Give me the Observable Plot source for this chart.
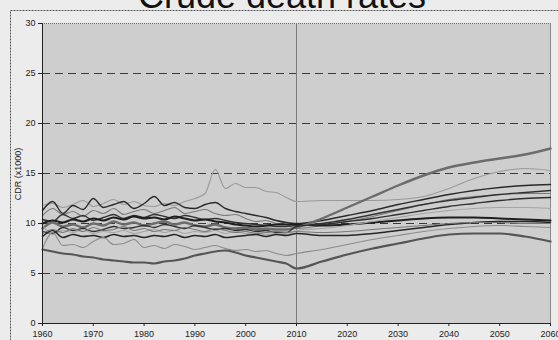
<!DOCTYPE html>
<html><head><meta charset="utf-8">
<script src="https://cdn.jsdelivr.net/npm/d3@7"></script>
<script src="https://cdn.jsdelivr.net/npm/@observablehq/plot@0.6"></script>
<style>
html,body{margin:0;padding:0;background:#ececec;}
#chart{position:relative;width:558px;height:340px;overflow:hidden;}
</style></head><body><div id="chart"></div>
<script>
const title = "Crude death rates";
const yLabel = "CDR (x1000)";
const xTicks = [1960,1970,1980,1990,2000,2010,2020,2030,2040,2050,2060];
const yTicks = [0,5,10,15,20,25,30];
const gridValues = [5,10,15,20,25];
const histYears = [1960,1962,1964,1966,1968,1970,1972,1974,1976,1978,1980,1982,1984,1986,1988,1990,1992,1994,1996,1998,2000,2002,2004,2006,2008];
const projYears = [2010,2015,2020,2025,2030,2035,2040,2045,2050,2055,2060];

const h1 = [11.8,12.0,11.6,11.9,12.3,11.7,12.0,12.4,11.9,12.2,11.8,11.7,12.0,11.8,12.2,12.5,13.0,15.4,13.5,14.0,13.6,13.6,13.2,13.1,12.6];
const p1 = [12.2,12.3,12.3,12.3,12.4,12.7,13.5,14.5,15.2,15.5,15.3];
const h2 = [11.3,12.2,11.0,11.8,11.4,12.5,11.6,11.9,12.2,11.5,12.0,12.7,11.8,12.1,11.6,11.5,11.9,12.1,11.5,11.2,11.0,10.8,10.6,10.3,10.1];
const p2 = [10.0,10.3,10.8,11.3,11.9,12.4,12.9,13.3,13.6,13.8,13.9];
const h3 = [10.8,11.5,10.9,11.2,10.7,11.3,11.0,11.5,10.9,11.2,11.4,11.0,11.3,11.6,11.0,11.2,11.4,11.0,10.8,10.9,10.5,10.2,10.3,10.0,9.9];
const p3 = [9.5,9.8,10.2,10.7,11.3,11.9,12.4,12.7,12.9,13.0,13.0];
const h4 = [10.4,10.2,10.9,10.5,10.8,10.3,10.6,10.9,10.5,10.8,10.6,10.9,10.7,10.5,10.8,10.6,10.4,10.5,10.3,10.1,10.0,9.9,9.8,9.7,9.7];
const p4 = [9.8,10.0,10.4,10.9,11.4,11.9,12.3,12.6,12.9,13.1,13.3];
const h5 = [10.0,10.3,10.1,10.4,10.2,10.5,10.3,10.6,10.4,10.7,10.5,10.6,10.4,10.7,10.5,10.3,10.4,10.2,10.1,9.9,9.8,9.7,9.8,9.9,9.9];
const p5 = [9.9,9.8,9.9,10.1,10.3,10.5,10.6,10.6,10.5,10.4,10.3];
const h6 = [9.5,10.1,9.7,9.9,9.6,10.0,9.8,10.2,9.9,10.1,9.8,10.0,10.2,9.9,10.1,9.8,9.7,9.9,9.6,9.5,9.6,9.4,9.5,9.4,9.4];
const p6 = [9.6,10.5,11.6,12.7,13.8,14.8,15.6,16.1,16.5,16.9,17.5];
const h7 = [9.2,9.0,9.6,9.3,9.5,9.2,9.4,9.7,9.5,9.6,9.8,9.6,9.9,9.7,9.5,9.8,9.6,9.4,9.5,9.3,9.4,9.2,9.3,9.1,9.1];
const p7 = [9.7,9.9,10.2,10.5,10.9,11.3,11.7,12.0,12.3,12.5,12.6];
const h8 = [9.8,8.9,9.3,9.1,9.4,9.0,9.2,9.1,9.3,9.0,9.2,9.4,9.1,9.3,9.0,9.2,9.1,9.3,9.0,9.2,9.0,9.1,8.9,9.0,8.9];
const p8 = [9.3,9.5,9.8,10.2,10.6,11.0,11.3,11.5,11.6,11.6,11.5];
const h9 = [8.7,9.3,8.6,8.9,8.7,8.8,8.6,8.9,8.7,8.8,8.6,8.8,8.7,8.9,8.6,8.8,8.7,8.9,8.6,8.7,8.8,8.9,8.7,8.9,8.8];
const p9 = [9.0,8.8,8.8,9.0,9.3,9.6,9.9,10.1,10.2,10.2,10.1];
const h10 = [7.5,9.1,7.8,7.9,7.6,8.2,8.6,7.9,8.0,8.4,7.6,7.8,7.5,7.9,7.7,7.4,7.6,7.8,7.5,7.3,7.4,7.2,7.3,7.0,6.8];
const p10 = [7.0,7.4,7.9,8.4,8.8,9.2,9.5,9.7,9.8,9.7,9.6];
const h11 = [7.4,7.2,7.0,6.9,6.7,6.6,6.4,6.3,6.2,6.1,6.1,6.0,6.2,6.3,6.5,6.8,7.0,7.2,7.3,7.1,6.8,6.6,6.4,6.2,6.0];
const p11 = [5.5,6.2,6.9,7.5,8.0,8.5,8.9,9.0,9.0,8.7,8.2];
const h12 = [9.0,9.4,9.1,9.5,9.2,9.6,9.3,9.4,9.7,9.3,9.5,9.2,9.4,9.3,9.6,9.4,9.2,9.5,9.3,9.1,9.2,9.0,9.1,9.2,9.1];
const p12 = [9.2,9.1,9.2,9.4,9.6,9.8,10.0,10.1,10.1,10.0,10.0];

const seriesList = [
  {hist:h1, proj:p1, color:"#9a9a9a", w:1.1},
  {hist:h2, proj:p2, color:"#2a2a2a", w:1.4},
  {hist:h3, proj:p3, color:"#7a7a7a", w:1.1},
  {hist:h4, proj:p4, color:"#333333", w:1.4},
  {hist:h5, proj:p5, color:"#1e1e1e", w:2.0},
  {hist:h6, proj:p6, color:"#6c6c6c", w:2.4},
  {hist:h7, proj:p7, color:"#2f2f2f", w:1.3},
  {hist:h8, proj:p8, color:"#a5a5a5", w:1.2},
  {hist:h9, proj:p9, color:"#262626", w:1.5},
  {hist:h10, proj:p10, color:"#8c8c8c", w:1.1},
  {hist:h11, proj:p11, color:"#555555", w:2.2},
  {hist:h12, proj:p12, color:"#777777", w:1.1}
];

const lineMarks = seriesList.map(s => {
  const rows = [];
  histYears.forEach((yr,i) => rows.push({year:yr, v:s.hist[i]}));
  projYears.forEach((yr,i) => rows.push({year:yr, v:s.proj[i]}));
  return Plot.line(rows, {x:"year", y:"v", stroke:s.color, strokeWidth:s.w, curve:"monotone-x"});
});

const chart = Plot.plot({
  width:558, height:340,
  marginLeft:42, marginRight:8, marginTop:23, marginBottom:17,
  style:{background:"transparent", fontFamily:"'Liberation Sans', Arial, sans-serif", fontSize:"9px", color:"#222"},
  x:{domain:[1960,2060]},
  y:{domain:[0,30]},
  marks:[
    Plot.frame({fill:"#cecece", stroke:null}),
    Plot.ruleY(gridValues, {stroke:"#3a3a3a", strokeWidth:1, strokeDasharray:"8,5"}),
    Plot.ruleY([30], {stroke:"#666", strokeWidth:1, strokeDasharray:"1,1"}),
    Plot.ruleX([2010], {stroke:"#7a7a7a", strokeWidth:1}),
    Plot.ruleX([2060], {stroke:"#8a8a8a", strokeWidth:1}),
    ...lineMarks,
    Plot.ruleY([0], {stroke:"#222", strokeWidth:1}),
    Plot.ruleX([1960], {stroke:"#222", strokeWidth:1}),
    Plot.axisY({ticks:yTicks, tickSize:4, tickPadding:3, label:null, tickFormat:d=>String(d)}),
    Plot.axisX({ticks:xTicks, tickSize:3, tickPadding:4, label:null, tickFormat:d=>String(d)})
  ]
});
document.getElementById("chart").appendChild(chart);

const svg = d3.select(chart);
svg.insert("rect", ":first-child")
  .attr("x",10.5).attr("y",10.5).attr("width",560).attr("height",340)
  .attr("fill","none").attr("stroke","#555").attr("stroke-width",1).attr("stroke-dasharray","2,1");
svg.append("text").text(title)
  .attr("x",282).attr("y",8).attr("text-anchor","middle")
  .attr("font-size",36).attr("font-family","'Liberation Sans', Arial, sans-serif").attr("fill","#111");
svg.append("text").text(yLabel)
  .attr("transform","translate(21,174) rotate(-90)").attr("text-anchor","middle")
  .attr("font-size",9).attr("font-family","'Liberation Sans', Arial, sans-serif").attr("fill","#222");
</script>
</body></html>
